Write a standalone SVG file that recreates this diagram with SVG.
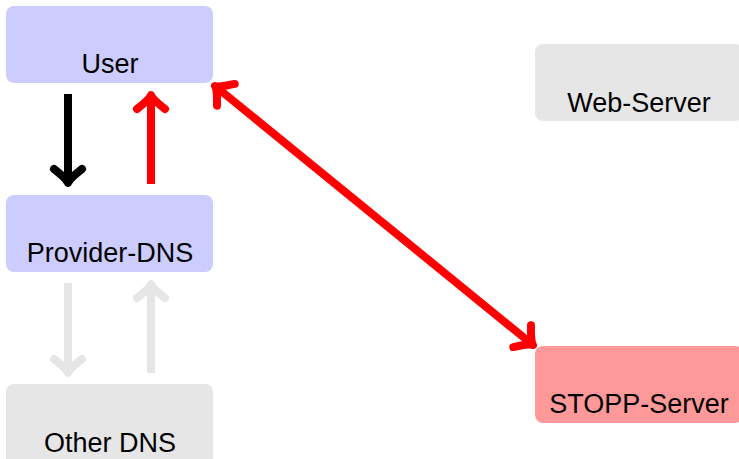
<svg xmlns="http://www.w3.org/2000/svg" width="739" height="459" viewBox="0 0 739 459">
<style>
.lbl{font-family:"Liberation Sans","DejaVu Sans",sans-serif;font-size:27px;fill:#000;text-anchor:middle}
.blue{fill:#ccccff}
.gray{fill:#e6e6e6}
.pink{fill:#ff9999}
.conn{fill:none;stroke-width:8}
.hd{fill:none;stroke-width:8;stroke-linecap:round;stroke-linejoin:round}
</style>
<defs>
<marker id="hkK" markerUnits="userSpaceOnUse" viewBox="-22 -22 32 44" markerWidth="32" markerHeight="44" refX="-4" refY="0" orient="auto-start-reverse" overflow="visible">
<path class="hd" stroke="#000" d="M-14,-14 C-7,-5 -3,-1 0,0 C-3,1 -7,5 -14,14"/>
</marker>
<marker id="hkR" markerUnits="userSpaceOnUse" viewBox="-22 -22 32 44" markerWidth="32" markerHeight="44" refX="-4" refY="0" orient="auto-start-reverse" overflow="visible">
<path class="hd" stroke="#ff0000" d="M-14,-14 C-7,-5 -3,-1 0,0 C-3,1 -7,5 -14,14"/>
</marker>
<marker id="hkG" markerUnits="userSpaceOnUse" viewBox="-22 -22 32 44" markerWidth="32" markerHeight="44" refX="-4" refY="0" orient="auto-start-reverse" overflow="visible">
<path class="hd" stroke="#e6e6e6" d="M-14,-14 C-7,-5 -3,-1 0,0 C-3,1 -7,5 -14,14"/>
</marker>
</defs>
<g id="user"><rect class="blue" x="6" y="6" width="207" height="77" rx="8"/><text class="lbl" x="110" y="73">User</text></g>
<g id="provider-dns"><rect class="blue" x="6" y="195" width="207" height="77" rx="8"/><text class="lbl" x="110" y="262">Provider-DNS</text></g>
<g id="other-dns"><rect class="gray" x="6" y="384" width="207" height="85" rx="8"/><text class="lbl" x="110" y="452">Other DNS</text></g>
<g id="web-server"><rect class="gray" x="535" y="44" width="208" height="77" rx="8"/><text class="lbl" x="639" y="112">Web-Server</text></g>
<g id="stopp-server"><rect class="pink" x="535" y="346" width="208" height="77" rx="8"/><text class="lbl" x="639" y="413">STOPP-Server</text></g>
<g id="connectors">
<line class="conn" stroke="#000" x1="68" y1="94" x2="68" y2="179" marker-end="url(#hkK)"/>
<line class="conn" stroke="#ff0000" x1="151" y1="184" x2="151" y2="99" marker-end="url(#hkR)"/>
<line class="conn" stroke="#e6e6e6" x1="68" y1="283" x2="68" y2="369" marker-end="url(#hkG)"/>
<line class="conn" stroke="#e6e6e6" x1="151" y1="373" x2="151" y2="288" marker-end="url(#hkG)"/>
<line class="conn" stroke="#ff0000" x1="218.1" y1="88.5" x2="529.9" y2="342.5" marker-start="url(#hkR)" marker-end="url(#hkR)"/>
</g>
</svg>
